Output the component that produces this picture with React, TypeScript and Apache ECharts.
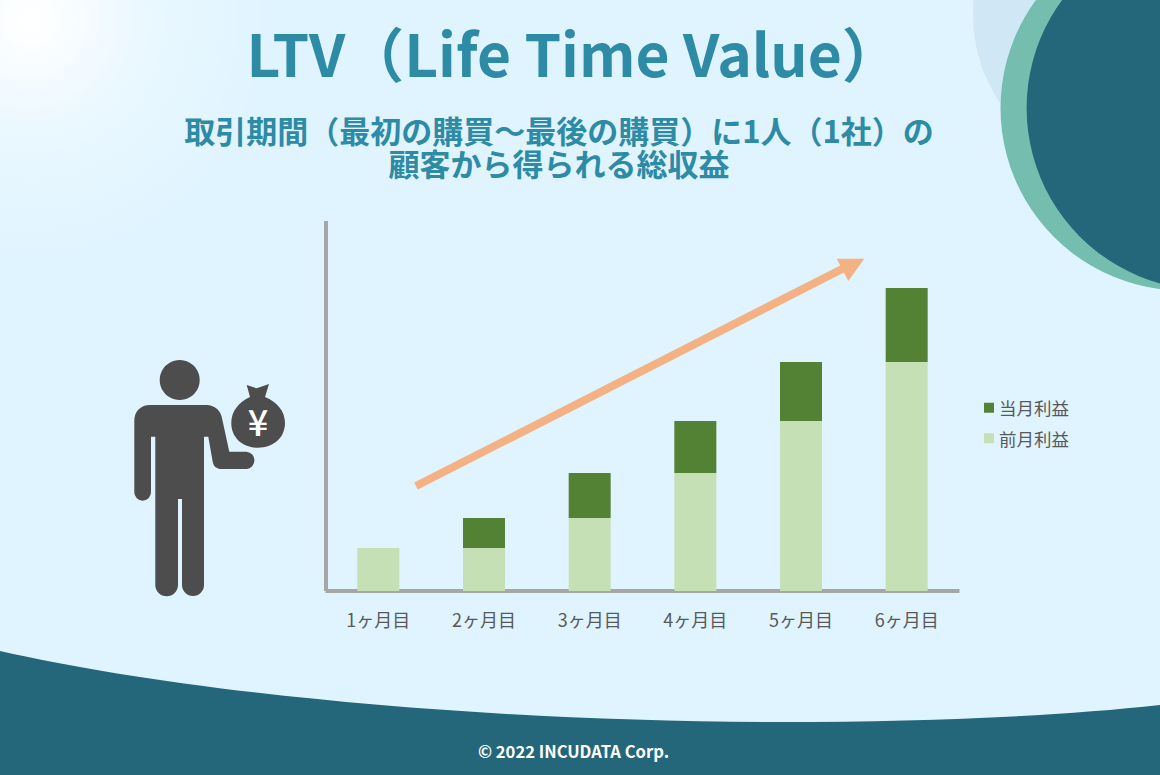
import React, { useEffect, useRef } from "react";
import * as echarts from "echarts";

const categories = ["1ヶ月目", "2ヶ月目", "3ヶ月目", "4ヶ月目", "5ヶ月目", "6ヶ月目"];
const previousProfit = [43, 43, 73, 118, 170, 229];
const currentProfit = [0, 30, 45, 52, 59, 74];
const titleText = "LTV（Life Time Value）";
const subtitleText = "取引期間（最初の購買～最後の購買）に1人（1社）の\n顧客から得られる総収益";
const footerText = "© 2022 INCUDATA Corp.";
const FONT = '"Noto Sans CJK JP", "Noto Sans", sans-serif';

const personBody =
  "M150 405 L206.7 405 C214 405 220 410 221.7 416.7 L229.3 451.7 L246.7 451.7 A8.7 8.7 0 0 1 246.7 469 L222 469 C216 469 213.5 466 212.7 461.7 L208.3 436.7 L204 436.7 L204 585 A11 11 0 0 1 182 585 L182 499 L178 499 L178 585 A11.3 11.3 0 0 1 155.3 585 L155.3 436.7 L151 436.7 L151 492.3 A8.35 8.35 0 0 1 134.3 492.3 L134.3 421 C134.3 411 141 405 150 405 Z";
const moneyBag =
  "M246.7 385 L256.7 388.3 L269 384 L265 397 C277 402 285 411 285 423 C285 438 273 447.7 258 447.7 C243 447.7 231.3 438 231.3 423 C231.3 411 239 402 250 397 Z";
const groundWave = "M0 651 C180 692 480 722 780 722 C930 722 1060 716 1160 705 L1160 775 L0 775 Z";

echarts.graphic.registerShape("personBody", echarts.graphic.extendPath(personBody, {}));
echarts.graphic.registerShape("moneyBag", echarts.graphic.extendPath(moneyBag, {}));
echarts.graphic.registerShape("groundWave", echarts.graphic.extendPath(groundWave, {}));

const DARK = "#24677A";
const ICON = "#4D4D4D";
const ARROW = "#F4B183";

export default function App() {
  const ref = useRef<HTMLDivElement>(null);
  useEffect(() => {
    const chart = echarts.init(ref.current!, undefined, { renderer: "svg" });
    chart.setOption({
      animation: false,
      backgroundColor: "#DFF4FF",
      title: [
        {
          text: titleText,
          left: 568.5,
          top: 17,
          textAlign: "center",
          textStyle: { color: "#2E8BA5", fontFamily: FONT, fontSize: 58.7, fontWeight: 700 },
        },
        {
          text: subtitleText,
          left: 554,
          top: 108,
          textAlign: "center",
          textStyle: { color: "#2E8BA5", fontFamily: FONT, fontSize: 31, fontWeight: 700, lineHeight: 33 },
        },
      ],
      legend: {
        orient: "vertical",
        left: 979,
        top: 394,
        itemWidth: 10,
        itemHeight: 10,
        itemGap: 13,
        icon: "rect",
        data: ["当月利益", "前月利益"],
        selectedMode: false,
        textStyle: { color: "#595959", fontFamily: FONT, fontSize: 17.5 },
      },
      grid: { left: 325.5, right: 200.5, top: 221, bottom: 184 },
      xAxis: {
        type: "category",
        data: categories,
        axisLine: { lineStyle: { color: "#A6A6A6", width: 4, cap: "butt" } },
        axisTick: { show: false },
        axisLabel: { color: "#595959", fontFamily: FONT, fontSize: 18, margin: 19 },
      },
      yAxis: {
        type: "value",
        min: 0,
        max: 370,
        axisLine: { show: true, lineStyle: { color: "#A6A6A6", width: 4, cap: "butt" } },
        axisTick: { show: false },
        axisLabel: { show: false },
        splitLine: { show: false },
      },
      series: [
        { name: "前月利益", type: "bar", stack: "profit", barWidth: 42, data: previousProfit, itemStyle: { color: "#C5E0B4" } },
        { name: "当月利益", type: "bar", stack: "profit", barWidth: 42, data: currentProfit, itemStyle: { color: "#548235" } },
      ],
      graphic: [
        {
          type: "circle",
          z: -10,
          shape: { cx: 30, cy: 20, r: 250 },
          style: {
            fill: new echarts.graphic.RadialGradient(0.5, 0.5, 0.5, [
              { offset: 0, color: "rgba(255,255,255,1)" },
              { offset: 0.1, color: "rgba(255,255,255,0.9)" },
              { offset: 0.45, color: "rgba(255,255,255,0.35)" },
              { offset: 1, color: "rgba(255,255,255,0)" },
            ]),
          },
        },
        { type: "circle", z: -9, shape: { cx: 1130, cy: 15, r: 157 }, style: { fill: "#D0E8F6" } },
        { type: "circle", z: -8, shape: { cx: 1183, cy: 108, r: 182.5 }, style: { fill: "#75BEAF" } },
        { type: "circle", z: -7, shape: { cx: 1208.6, cy: 108, r: 182 }, style: { fill: DARK } },
        { type: "groundWave", z: -6, style: { fill: DARK } },
        {
          type: "text",
          z: 5,
          x: 573.5,
          y: 751,
          style: { text: footerText, fill: "#FFFFFF", font: `700 16.6px ${FONT}`, textAlign: "center", textVerticalAlign: "middle" },
        },
        { type: "circle", z: 1, shape: { cx: 179.7, cy: 380, r: 20 }, style: { fill: ICON } },
        { type: "personBody", z: 1, style: { fill: ICON } },
        { type: "moneyBag", z: 1, style: { fill: ICON } },
        {
          type: "text",
          z: 2,
          x: 258,
          y: 420,
          style: { text: "¥", fill: "#FFFFFF", font: `500 36px ${FONT}`, textAlign: "center", textVerticalAlign: "middle" },
        },
        {
          type: "line",
          z: 3,
          shape: { x1: 416, y1: 486, x2: 848, y2: 266 },
          style: { stroke: ARROW, lineWidth: 8 },
        },
        {
          type: "polygon",
          z: 3,
          shape: { points: [[864.3, 258.7], [836.7, 258.7], [848.3, 281]] },
          style: { fill: ARROW },
        },
      ],
    });
    return () => chart.dispose();
  }, []);
  return <div ref={ref} style={{ position: "absolute", left: 0, top: 0, width: 1160, height: 775 }} />;
}
